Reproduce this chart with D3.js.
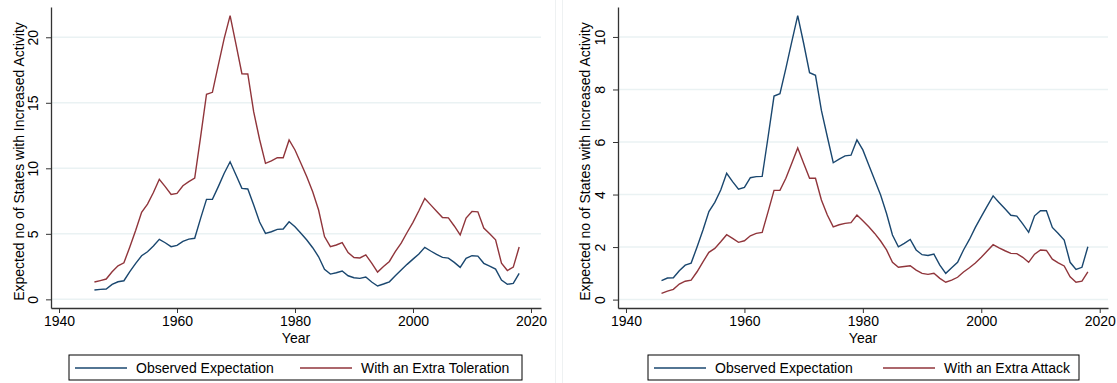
<!DOCTYPE html>
<html>
<head>
<meta charset="utf-8">
<script src="https://cdn.jsdelivr.net/npm/d3@7"></script>
<style>
  html, body { margin: 0; padding: 0; background: #ffffff; }
  svg { display: block; font-family: "Liberation Sans", Arial, sans-serif; }
</style>
</head>
<body>
<svg id="chart" width="1117" height="383"></svg>
<script>
// ---- data ----
const years = [1946,1947,1948,1949,1950,1951,1952,1953,1954,1955,1956,1957,1958,1959,1960,
  1961,1962,1963,1964,1965,1966,1967,1968,1969,1970,1971,1972,1973,1974,1975,1976,1977,1978,
  1979,1980,1981,1982,1983,1984,1985,1986,1987,1988,1989,1990,1991,1992,1993,1994,1995,1996,
  1997,1998,1999,2000,2001,2002,2003,2004,2005,2006,2007,2008,2009,2010,2011,2012,2013,2014,
  2015,2016,2017,2018];

// Left panel
const observedLeft = [0.71,0.76,0.79,1.14,1.34,1.42,2.11,2.75,3.33,3.63,4.07,4.58,4.32,4.02,4.12,
  4.43,4.60,4.66,6.18,7.63,7.63,8.6,9.62,10.5,9.49,8.47,8.42,7.2,5.9,5.04,5.16,5.34,5.37,
  5.92,5.54,5.04,4.53,3.94,3.25,2.29,1.93,2.03,2.16,1.80,1.65,1.60,1.70,1.32,1.02,1.17,1.34,
  1.80,2.24,2.67,3.07,3.46,3.97,3.69,3.43,3.2,3.15,2.82,2.44,3.13,3.33,3.3,2.75,2.54,2.31,
  1.47,1.15,1.22,1.98];
const toleration = [1.32,1.43,1.55,2.1,2.56,2.79,4.0,5.27,6.64,7.27,8.15,9.16,8.6,8.0,8.09,
  8.67,8.98,9.26,12.4,15.65,15.8,17.88,19.92,21.65,19.45,17.22,17.2,14.3,12.2,10.38,10.56,10.81,10.81,
  12.16,11.4,10.38,9.36,8.21,6.82,4.79,4.02,4.15,4.33,3.57,3.19,3.16,3.39,2.76,2.08,2.5,2.89,
  3.65,4.29,5.10,5.88,6.76,7.7,7.21,6.73,6.25,6.22,5.6,4.92,6.2,6.71,6.68,5.44,5.0,4.54,
  2.76,2.2,2.46,3.99];

// Right panel
const observedRight = [0.72,0.82,0.83,1.10,1.31,1.39,2.0,2.65,3.35,3.70,4.17,4.81,4.49,4.20,4.27,
  4.64,4.68,4.69,6.2,7.75,7.84,8.8,9.82,10.81,9.76,8.64,8.54,7.2,6.2,5.21,5.35,5.47,5.5,
  6.08,5.7,5.12,4.55,3.98,3.28,2.46,2.01,2.14,2.29,1.89,1.71,1.68,1.73,1.31,1.0,1.21,1.42,
  1.89,2.29,2.75,3.16,3.56,3.95,3.70,3.46,3.21,3.18,2.88,2.56,3.19,3.38,3.38,2.75,2.52,2.27,
  1.42,1.15,1.23,2.01];
const attack = [0.24,0.32,0.39,0.59,0.70,0.74,1.06,1.44,1.80,1.95,2.2,2.47,2.33,2.18,2.24,
  2.43,2.52,2.56,3.35,4.16,4.16,4.62,5.19,5.77,5.19,4.62,4.62,3.79,3.22,2.77,2.85,2.90,2.93,
  3.22,3.0,2.77,2.52,2.23,1.89,1.42,1.23,1.26,1.29,1.12,1.0,0.96,1.0,0.81,0.66,0.74,0.85,
  1.05,1.21,1.39,1.61,1.85,2.09,1.97,1.86,1.76,1.75,1.61,1.42,1.73,1.89,1.87,1.54,1.40,1.28,
  0.87,0.66,0.70,1.06];

const xTicks = [1940,1960,1980,2000,2020];
const yTicksLeft = [0,5,10,15,20];
const yTicksRight = [0,2,4,6,8,10];
const yTitle = "Expected no of States with Increased Activity";
const xTitle = "Year";
const legendLeft = ["Observed Expectation","With an Extra Toleration"];
const legendRight = ["Observed Expectation","With an Extra Attack"];

// ---- styles ----
const NAVY = "#1a476f", MAROON = "#90353b", GRID = "#eaf2f3", AXIS = "#333333";

const svg = d3.select("#chart");

// faint sub-graph borders between the two panels
svg.append("line").attr("x1", 555.5).attr("x2", 555.5).attr("y1", 0).attr("y2", 383)
  .attr("stroke", "#eef1f2").attr("stroke-width", 1);
svg.append("line").attr("x1", 562.5).attr("x2", 562.5).attr("y1", 0).attr("y2", 383)
  .attr("stroke", "#eef1f2").attr("stroke-width", 1);

function drawPanel(cfg) {
  const g = svg.append("g");
  const x = d3.scaleLinear().domain(cfg.xDomain).range([cfg.left, cfg.right]);
  const y = d3.scaleLinear().domain(cfg.yDomain).range([cfg.bottom, cfg.top]);

  // gridlines
  g.selectAll("line.grid").data(cfg.yTicks).join("line")
    .attr("x1", cfg.left).attr("x2", cfg.right)
    .attr("y1", d => y(d)).attr("y2", d => y(d))
    .attr("stroke", GRID).attr("stroke-width", 1.5);

  // y axis
  const yAxis = g.append("g").attr("transform", `translate(${cfg.left},0)`)
    .call(d3.axisLeft(y).tickValues(cfg.yTicks).tickSize(5).tickSizeOuter(0).tickFormat(d3.format("d")));
  yAxis.select(".domain").attr("stroke", AXIS).attr("stroke-width", 1.3);
  yAxis.selectAll(".tick line").attr("stroke", AXIS).attr("stroke-width", 1);
  yAxis.selectAll(".tick text")
    .attr("x", 0).attr("dy", 0)
    .attr("transform", "translate(-13,0) rotate(-90)")
    .attr("text-anchor", "middle")
    .attr("font-size", 14).attr("fill", "#000");
  yAxis.attr("font-family", null);

  // x axis
  const xAxis = g.append("g").attr("transform", `translate(0,${cfg.bottom})`)
    .call(d3.axisBottom(x).tickValues(xTicks).tickSize(5).tickSizeOuter(0).tickFormat(d3.format("d")));
  xAxis.select(".domain").attr("stroke", AXIS).attr("stroke-width", 1.3);
  xAxis.selectAll(".tick line").attr("stroke", AXIS).attr("stroke-width", 1);
  xAxis.selectAll(".tick text").attr("y", 8).attr("font-size", 14).attr("fill", "#000");
  xAxis.attr("font-family", null);

  // titles
  g.append("text").attr("x", (cfg.left + cfg.right) / 2).attr("y", 343)
    .attr("text-anchor", "middle").attr("font-size", 14).text(xTitle);
  g.append("text")
    .attr("transform", `translate(${cfg.yTitleX},${(cfg.top + cfg.bottom) / 2 + 4}) rotate(-90)`)
    .attr("text-anchor", "middle").attr("font-size", 14).text(yTitle);

  // lines
  const line = d3.line().x((d, i) => x(years[i])).y(d => y(d));
  g.append("path").datum(cfg.series[0]).attr("d", line)
    .attr("fill", "none").attr("stroke", NAVY).attr("stroke-width", 1.4);
  g.append("path").datum(cfg.series[1]).attr("d", line)
    .attr("fill", "none").attr("stroke", MAROON).attr("stroke-width", 1.4);

  // legend
  const lg = g.append("g");
  lg.append("rect").attr("x", cfg.legX).attr("y", 355).attr("width", cfg.legW).attr("height", 25)
    .attr("fill", "#fff").attr("stroke", "#000").attr("stroke-width", 1);
  const colors = [NAVY, MAROON];
  cfg.legend.forEach((t, i) => {
    const lx = cfg.legX + cfg.legItems[i];
    lg.append("line").attr("x1", lx).attr("x2", lx + 52).attr("y1", 368).attr("y2", 368)
      .attr("stroke", colors[i]).attr("stroke-width", 1.4);
    lg.append("text").attr("x", lx + 61).attr("y", 373).attr("font-size", 14).text(t);
  });
}

drawPanel({
  left: 51, right: 541, top: 7, bottom: 308,
  xDomain: [1938.64, 2021.7], yDomain: [-0.66, 22.31],
  yTicks: yTicksLeft, yTitleX: 24,
  series: [observedLeft, toleration],
  legend: legendLeft, legX: 69, legW: 453, legItems: [6, 231]
});

drawPanel({
  left: 618, right: 1108, top: 7, bottom: 308,
  xDomain: [1938.65, 2021.4], yDomain: [-0.32, 11.14],
  yTicks: yTicksRight, yTitleX: 590,
  series: [observedRight, attack],
  legend: legendRight, legX: 648, legW: 431, legItems: [6, 235]
});
</script>
</body>
</html>
